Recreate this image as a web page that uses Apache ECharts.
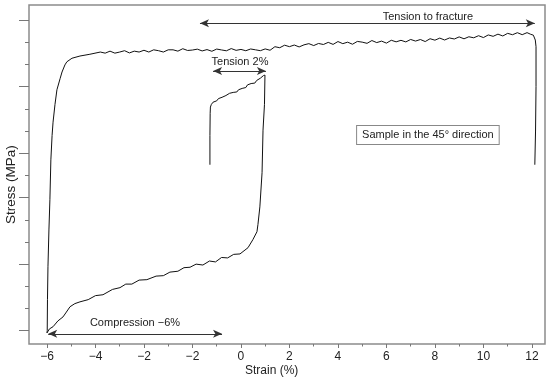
<!DOCTYPE html>
<html><head><meta charset="utf-8">
<script src="https://cdn.jsdelivr.net/npm/echarts@6/dist/echarts.min.js"></script>
<style>html,body{margin:0;padding:0;background:#fff}#c{width:550px;height:383px}</style>
</head><body><div id="c"></div>
<script>
// Axis ticks (x positions are the linear axis positions; labels are as printed in the figure)
const xTickValues = [-8, -6, -4, -2, 0, 2, 4, 6, 8, 10, 12];
const xTickLabels = ['−6', '−4', '−2', '−2', '0', '2', '4', '6', '8', '10', '12'];
const xMinorTicks = [-7, -5, -3, -1, 1, 3, 5, 7, 9, 11];
const yMajorTicks = [-400, -250, -100, 0, 150, 300];
const yMinorTicks = [-350, -300, -200, -150, -50, 50, 100, 200, 250];

// Tension 2% loading: [strain, stress]
const tension2 = [
  [-1.28, -26], [-1.28, 40], [-1.27, 90], [-1.26, 104], [-1.22, 110], [-1.15, 115],
  [-1.08, 119], [-1.0, 118], [-0.93, 123], [-0.85, 122], [-0.78, 126], [-0.7, 127],
  [-0.62, 130], [-0.55, 129], [-0.47, 135], [-0.4, 133], [-0.32, 137], [-0.25, 139],
  [-0.17, 138], [-0.1, 143], [-0.02, 142], [0.05, 146], [0.12, 149], [0.2, 148],
  [0.27, 154], [0.35, 152], [0.42, 157], [0.5, 160], [0.57, 158], [0.65, 164],
  [0.72, 163], [0.8, 169], [0.87, 167], [0.93, 175], [0.96, 172], [0.99, 176]
];

// Unloading and compression to -6%
const compression = [
  [0.99, 176], [0.97, 110], [0.91, 52], [0.87, -44], [0.78, -121], [0.70, -161],
  [0.66, -177], [0.49, -195], [0.29, -213], [-0.04, -227], [-0.3, -228], [-0.55, -236],
  [-0.8, -235], [-1.05, -245], [-1.3, -243], [-1.57, -252], [-1.85, -250], [-2.10, -257],
  [-2.35, -258], [-2.6, -266], [-2.93, -268], [-3.2, -276], [-3.5, -277], [-3.88, -285],
  [-4.2, -286], [-4.5, -295], [-4.75, -295], [-4.99, -303], [-5.3, -307], [-5.69, -319],
  [-6.0, -321], [-6.3, -330], [-6.64, -335], [-6.85, -339], [-7.05, -346], [-7.2, -358],
  [-7.34, -369], [-7.55, -378], [-7.75, -391], [-7.9, -396], [-8.0, -405]
];

// Reloading in tension up to fracture
const fracture = [
  [-8.0, -405], [-7.99, -400], [-7.98, -330], [-7.96, -256], [-7.92, -173], [-7.88, -105],
  [-7.84, -15], [-7.79, 40], [-7.75, 70], [-7.67, 110], [-7.59, 143], [-7.46, 168],
  [-7.38, 183], [-7.26, 199], [-7.18, 206], [-6.97, 214], [-6.64, 219], [-6.23, 223],
  [-5.8, 228], [-5.6, 225.5], [-5.4, 230], [-5.2, 225.5], [-5.0, 228], [-4.8, 231],
  [-4.6, 226], [-4.4, 230], [-4.2, 228], [-4.0, 232], [-3.8, 228], [-3.6, 233],
  [-3.4, 231], [-3.2, 228], [-3.0, 233], [-2.8, 233], [-2.6, 230], [-2.4, 235.5],
  [-2.2, 231.5], [-2.0, 232.5], [-1.8, 234.5], [-1.6, 230.5], [-1.4, 233.5], [-1.2, 229.7],
  [-1.0, 234.7], [-0.8, 232.7], [-0.6, 230.8], [-0.4, 235.8], [-0.2, 231.8], [0.0, 233.9],
  [0.2, 230.9], [0.4, 234.9], [0.6, 233], [0.8, 231], [1.0, 235], [1.2, 232],
  [1.4, 240], [1.6, 237.7], [1.8, 243.4], [2.0, 240.1], [2.2, 243.8], [2.4, 239.5],
  [2.6, 244.2], [2.8, 246.9], [3.0, 242.6], [3.2, 247.3], [3.4, 245], [3.6, 249.8],
  [3.8, 245.2], [4.0, 251.6], [4.2, 246.9], [4.4, 250.2], [4.6, 245.6], [4.8, 251.9],
  [5.0, 250.3], [5.2, 247.6], [5.4, 253.9], [5.6, 249.3], [5.8, 252.6], [6.0, 248.1],
  [6.2, 254.5], [6.4, 251], [6.6, 254.4], [6.8, 250.8], [7.0, 256.3], [7.2, 252.7],
  [7.4, 256.2], [7.6, 251.6], [7.8, 258], [8.0, 254.7], [8.2, 259.4], [8.4, 255.1],
  [8.6, 259.7], [8.8, 257.4], [9.0, 262.1], [9.2, 257.8], [9.4, 262.4], [9.6, 260.1],
  [9.8, 264.8], [10.0, 260.6], [10.2, 266.5], [10.4, 263.4], [10.6, 268.3], [10.8, 264.2],
  [11.0, 270.1], [11.2, 267], [11.4, 271.6], [11.6, 267.1], [11.8, 271.7], [11.95, 268],
  [12.06, 266], [12.14, 255], [12.17, 240], [12.17, 150], [12.15, 50], [12.12, -26]
];

// Annotations
const arrows = [
  { from: [-1.69, 293], to: [12.12, 293] },
  { from: [-1.15, 185], to: [1.03, 185] },
  { from: [-7.95, -407], to: [-0.78, -407] }
];
const notes = [
  { text: 'Tension to fracture', at: [7.71, 307], box: false },
  { text: 'Tension 2%', at: [-0.04, 205], box: false },
  { text: 'Compression −6%', at: [-4.37, -382], box: false },
  { text: 'Sample in the 45° direction', at: [7.71, 41], box: true }
];

const FONT = '"Liberation Sans", Arial, sans-serif';
const chart = echarts.init(document.getElementById('c'), null, { renderer: 'canvas' });

const xMin = -8.742, xMax = 12.54, yMin = -430, yMax = 334;
const lineStyle = { color: '#111', width: 1 };
const noLine = { show: false, onZero: false };

chart.setOption({
  animation: false,
  backgroundColor: '#fff',
  grid: { left: 29, right: 5, top: 5, bottom: 39, show: true, borderColor: '#8c8c8c', borderWidth: 1.5, backgroundColor: 'transparent' },
  xAxis: [
    {
      type: 'value', min: xMin, max: xMax, position: 'bottom',
      axisLine: noLine, splitLine: { show: false },
      axisTick: { show: true, length: 4, customValues: xTickValues, lineStyle: { color: '#777', width: 1 } },
      axisLabel: {
        customValues: xTickValues, margin: 7, color: '#222', fontSize: 12, fontFamily: FONT,
        formatter: v => { const i = xTickValues.findIndex(t => Math.abs(t - v) < 1e-6); return i >= 0 ? xTickLabels[i] : ''; }
      }
    },
    {
      type: 'value', min: xMin, max: xMax, position: 'bottom',
      axisLine: noLine, splitLine: { show: false }, axisLabel: { show: false },
      axisTick: { show: true, length: 2.5, customValues: xMinorTicks, lineStyle: { color: '#777', width: 1 } }
    }
  ],
  yAxis: [
    {
      type: 'value', min: yMin, max: yMax, position: 'left',
      axisLine: noLine, splitLine: { show: false }, axisLabel: { show: false },
      axisTick: { show: true, length: 10, customValues: yMajorTicks, lineStyle: { color: '#777', width: 1 } }
    },
    {
      type: 'value', min: yMin, max: yMax, position: 'left',
      axisLine: noLine, splitLine: { show: false }, axisLabel: { show: false },
      axisTick: { show: true, length: 4, customValues: yMinorTicks, lineStyle: { color: '#777', width: 1 } }
    }
  ],
  graphic: [
    { type: 'text', left: 245, top: 365, style: { text: 'Strain (%)', fontSize: 12, fontFamily: FONT, fill: '#222' } },
    { type: 'text', x: 4, y: 224, rotation: Math.PI / 2, style: { text: 'Stress (MPa)', fontSize: 13.5, fontFamily: FONT, fill: '#222' } }
  ],
  series: [
    {
      type: 'line', data: tension2, showSymbol: false, lineStyle, silent: true,
      markLine: {
        silent: true, symbol: ['arrow', 'arrow'], symbolSize: [6, 9], precision: 3,
        lineStyle: { color: '#333', width: 1, type: 'solid' }, label: { show: false },
        data: arrows.map(a => [{ coord: a.from }, { coord: a.to }])
      },
      markPoint: {
        silent: true, symbol: 'rect', symbolSize: 0,
        data: notes.map(n => ({
          coord: n.at, value: n.text,
          label: Object.assign({
            show: true, position: 'inside', formatter: n.text, color: '#222', fontSize: 11, fontFamily: FONT
          }, n.box ? { borderColor: '#888', borderWidth: 1, padding: [4, 5, 3, 5], backgroundColor: '#fff' } : {})
        }))
      }
    },
    { type: 'line', data: compression, showSymbol: false, lineStyle, silent: true },
    { type: 'line', data: fracture, showSymbol: false, lineStyle, silent: true }
  ]
});
</script>
</body></html>
